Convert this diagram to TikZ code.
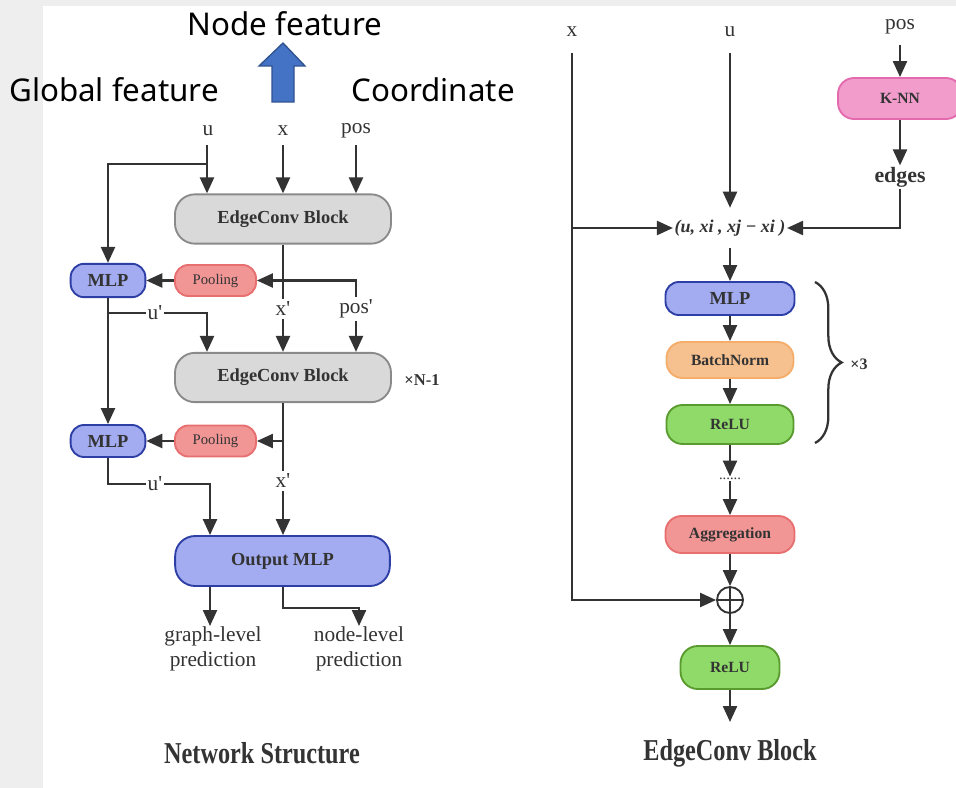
\documentclass[tikz,border=0pt]{standalone}
\usepackage{fontspec}
\setmainfont{Liberation Serif}
\newfontfamily\sansf{Noto Sans}
\usepackage{graphicx}
\usetikzlibrary{arrows.meta,decorations.pathreplacing,calc}
\definecolor{ink}{HTML}{333333}
\definecolor{bgstrip}{HTML}{EEEEEE}
\definecolor{gfill}{HTML}{D9D9D9}
\definecolor{gdraw}{HTML}{8A8A8A}
\definecolor{bfill}{HTML}{A3ACF0}
\definecolor{bdraw}{HTML}{2D3EA5}
\definecolor{rfill}{HTML}{F19595}
\definecolor{rdraw}{HTML}{E86F6F}
\definecolor{pfill}{HTML}{F19CCB}
\definecolor{pdraw}{HTML}{E36AAF}
\definecolor{ofill}{HTML}{F6C08F}
\definecolor{odraw}{HTML}{F4AD6A}
\definecolor{nfill}{HTML}{90DA6A}
\definecolor{ndraw}{HTML}{5A9B30}
\definecolor{arrfill}{HTML}{4472C4}
\definecolor{arrdraw}{HTML}{2F528F}
\newcommand{\prm}{\textquotesingle}
\begin{document}
\begin{tikzpicture}[x=0.75pt,y=-0.75pt,
  ln/.style={line width=1.7pt, draw=ink},
  arr/.style={line width=1.7pt, draw=ink, -{Triangle[length=12pt,width=10.5pt]}},
  lbl/.style={font=\fontsize{16}{19}\selectfont, text=ink, inner sep=2pt},
  ulbl/.style={lbl, fill=white, inner sep=1pt},
  big/.style={font=\sansf\fontsize{23.5}{28}\selectfont, text=black, inner sep=0pt},
  blk/.style={line width=1.4pt, inner sep=0pt, text=ink, font=\bfseries\fontsize{13.8}{16}\selectfont},
  sblk/.style={blk, font=\bfseries\fontsize{11.7}{14}\selectfont},
  grayb/.style={blk, fill=gfill, draw=gdraw, rounded corners=15pt, minimum width=162pt, minimum height=37pt},
  blueb/.style={blk, fill=bfill, draw=bdraw, rounded corners=10pt},
  poolb/.style={blk, fill=rfill, draw=rdraw, rounded corners=10pt, minimum width=60.75pt, minimum height=23.25pt, font=\fontsize{11}{13}\selectfont},
  pinkb/.style={sblk, fill=pfill, draw=pdraw, rounded corners=12pt},
  orangeb/.style={sblk, fill=ofill, draw=odraw, rounded corners=12pt},
  greenb/.style={sblk, fill=nfill, draw=ndraw, rounded corners=12pt},
  redb/.style={sblk, fill=rfill, draw=rdraw, rounded corners=12pt},
  pred/.style={lbl, align=center, anchor=north, inner sep=0pt},
  title/.style={font=\bfseries\fontsize{18.2}{22}\selectfont, text=ink},
  formula/.style={inner xsep=1pt, minimum height=30pt, text=ink, font=\bfseries\itshape\fontsize{13.5}{15}\selectfont},
  circ/.style={circle, draw=ink, line width=1.4pt, minimum size=19.5pt, inner sep=0pt,
    path picture={\draw[ink, line width=1.4pt] (path picture bounding box.north) -- (path picture bounding box.south)
      (path picture bounding box.west) -- (path picture bounding box.east);}}
]
% background
\fill[bgstrip] (0,0) rectangle (956,788);
\fill[white] (43,6) rectangle (956,788);
\useasboundingbox (0,0) rectangle (956,788);

% top sans labels and blue arrow
\node[big] (nf) at (285,24) {Node feature};
\node[big] (gf) at (114,90) {Global feature};
\node[big] (co) at (433,90) {Coordinate};
\draw[fill=arrfill, draw=arrdraw, line width=1pt] (283,43) -- (305,66) -- (294,66) -- (294,102) -- (272,102) -- (272,66) -- (259,66) -- cycle;

% ===== Network structure =====
\node[lbl] (u) at (208,131) {u};
\node[lbl] (x) at (283,131) {x};
\node[lbl] (pos) at (356,131) {pos};
\coordinate (ut) at (207,145);
\coordinate (xt) at (283,145);
\coordinate (pt) at (356,145);
\coordinate (uj) at (207,164);

\node[grayb] (EC1) at (283,219) {EdgeConv Block};
\node[blueb, minimum width=56pt, minimum height=25pt] (MLP1) at (108,280.5) {MLP};
\node[poolb] (P1) at (215.5,280.5) {Pooling};
\node[grayb] (EC2) at (283,377.5) {EdgeConv Block};
\node[blk, font=\bfseries\fontsize{12.4}{15}\selectfont] (N1) at (422,380) {×N-1};
\node[blueb, minimum width=56pt, minimum height=24pt] (MLP2) at (108,441) {MLP};
\node[poolb] (P2) at (215.5,441) {Pooling};
\node[blueb, rounded corners=15pt, minimum width=161pt, minimum height=37.5pt] (OUT) at (282.5,561) {Output MLP};
\node[pred] (gl) at (213,626) {graph-level\\prediction};
\node[pred] (nl) at (359,626) {node-level\\prediction};
\node[title] (t1) at (262,753) {\scalebox{1}[1.25]{Network Structure}};

\draw[ln] (ut) -- (uj);
\draw[arr] (uj) -- (EC1.north -| uj);
\draw[arr] (uj) -| (MLP1.north);
\draw[arr] (xt) -- (EC1.north -| xt);
\draw[arr] (pt) -- (EC1.north -| pt);

\node[lbl] (xp1) at (283,309) {x\prm};
\node[lbl] (pp1) at (356,309) {pos\prm};
\draw[ln] (EC1.south -| xt) -- (xp1.north);
\draw[arr] (xp1.south) -- (EC2.north -| xt);
\draw[arr] (pp1.north) |- (P1.east);
\draw[arr] (pp1.south) -- (EC2.north -| pp1);
\draw[arr] (P1) -- (MLP1);
\draw[arr] (MLP1) -- (MLP2);
\coordinate (ub1) at (108,313);
\draw[arr] (ub1) -| (EC2.north -| uj);
\node[ulbl] (up1) at (155,313) {u\prm};

\node[lbl] (xp2) at (283,481) {x\prm};
\draw[ln] (EC2.south -| xt) -- (xp2.north);
\coordinate (ph2) at (283,441);
\draw[arr] (ph2) -- (P2);
\draw[arr] (xp2.south) -- (OUT.north -| xt);
\draw[arr] (P2) -- (MLP2);
\coordinate (ub2) at (210,484);
\draw[arr] (MLP2.south) |- (ub2) -- (OUT.north -| ub2);
\node[ulbl] (up2) at (155,484) {u\prm};

\draw[arr] (OUT.south -| ub2) -- (gl.north -| ub2);
\coordinate (nlc) at (359,608);
\draw[arr] (OUT.south -| xt) |- (nlc) -- (nl.north);

% ===== EdgeConv block =====
\node[lbl] (xr) at (572,32) {x};
\node[lbl] (ur) at (730,32) {u};
\node[lbl] (pr) at (900,27) {pos};
\coordinate (xrt) at (572,53);
\coordinate (urt) at (730,53);
\coordinate (prt) at (900,45);
\coordinate (xrj) at (572,228);

\node[pinkb, minimum width=93pt, minimum height=30.75pt] (KNN) at (900,98.5) {K-NN};
\node[lbl, font=\bfseries\fontsize{16.4}{19}\selectfont, inner sep=1pt] (ed) at (900,177) {edges};
\node[formula] (F) at (730,228) {(u, xi , xj − xi )};
\node[blueb, minimum width=96.75pt, minimum height=24.75pt] (MLPr) at (730,298.5) {MLP};
\node[orangeb, minimum width=95.25pt, minimum height=27pt] (BN) at (730,360) {BatchNorm};
\node[greenb, minimum width=95.25pt, minimum height=29.25pt] (RL) at (730,424.5) {ReLU};
\node[text=ink, font=\fontsize{11}{13}\selectfont, inner sep=1pt] (dots) at (730,479) {......};
\node[redb, minimum width=96.75pt, minimum height=27.75pt] (AG) at (730,534.5) {Aggregation};
\node[circ] (CP) at (730,600) {};
\node[greenb, minimum width=74.25pt, minimum height=32.25pt, rounded corners=13pt] (RL2) at (730,667.5) {ReLU};
\coordinate (endp) at (730,722);
\node[title] (t2) at (730,753) {\scalebox{1}[1.25]{EdgeConv Block}};

\draw[arr] (xrt) |- (CP.west);
\draw[arr] (xrj) -- (F.west);
\draw[arr] (urt) -- (F.north);
\draw[arr] (prt) -- (KNN.north);
\draw[arr] (KNN.south) -- (ed.north);
\draw[arr] (ed.south) |- (F.east);
\draw[arr] (F.south) -- (MLPr.north);
\draw[arr] (MLPr) -- (BN);
\draw[arr] (BN) -- (RL);
\draw[arr] (RL) -- (dots);
\draw[arr] (dots) -- (AG);
\draw[arr] (AG) -- (CP);
\draw[arr] (CP) -- (RL2);
\draw[arr] (RL2) -- (endp);

\coordinate (bt) at (815,282);
\coordinate (bb) at (815,443);
\draw[ln, decorate, decoration={brace, amplitude=20pt}] (bt) -- (bb);
\node[blk, font=\bfseries\fontsize{12}{14}\selectfont] (x3) at (859,364) {×3};
\end{tikzpicture}
\end{document}
